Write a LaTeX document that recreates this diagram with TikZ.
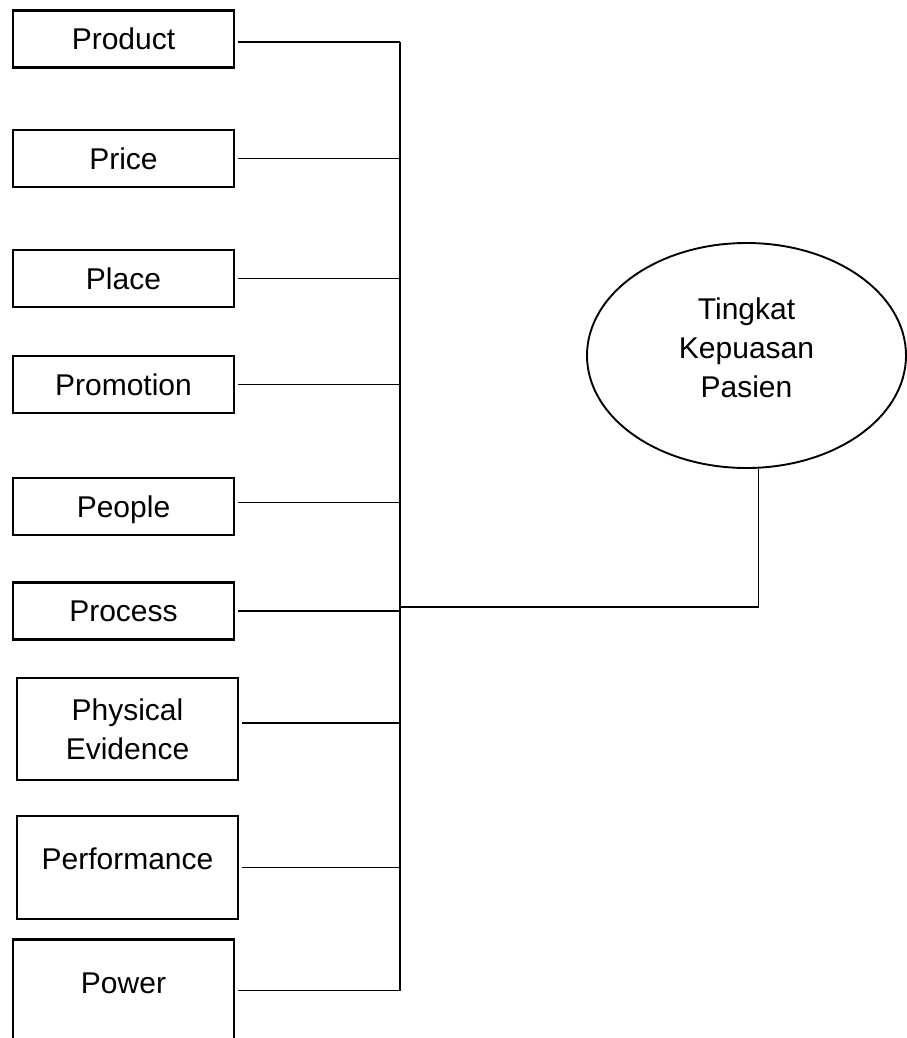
\documentclass[tikz,border=0pt]{standalone}
\usepackage{fontspec}
\setmainfont{Liberation Sans}
\usepackage{tikz}
\usetikzlibrary{positioning, shapes.geometric}

\tikzset{
  box/.style={draw, line width=2.7pt, minimum width=221pt, minimum height=57pt,
    inner sep=0pt, align=center, text height=21.5pt, text depth=0pt},
  link/.style={line width=1.2pt},
}

\begin{document}
\begin{tikzpicture}[x=1pt, y=-1pt, font=\fontsize{30}{39}\selectfont]
\useasboundingbox (0,0) rectangle (906,1038);

\node[box] (product) at (123.5,39) {Product};
\node[box] (price) at (123.5,158.5) {Price};
\node[box] (place) at (123.5,278.5) {Place};
\node[box] (promotion) at (123.5,384.5) {Promotion};
\node[box] (people) at (123.5,506.5) {People};
\node[box] (process) at (123.5,611) {Process};
\node[draw, line width=2.7pt, minimum width=221pt, minimum height=102pt, inner sep=0pt,
  align=center] (physical) at (127.5,729) {Physical\\Evidence};
\node[box, text height=53pt, text depth=50pt] (performance) at (127.5,867.5) {Performance};
\node[box, text height=54pt, text depth=54pt, anchor=north] (power) at (123.5,938) {Power};

\node[ellipse, draw, line width=1.9pt, minimum width=319pt, minimum height=225pt,
  inner sep=0pt, align=center, text depth=15pt] (goal) at (746.5,355.5)
  {Tingkat\\Kepuasan\\Pasien};

\coordinate (spine) at (400,0);
\coordinate (hub) at (400,607);

\draw[link] ([yshift=-3pt]product.east -| spine) -- (power.mid east -| spine);
\draw[link] ([xshift=3pt,yshift=-3pt]product.east) -- ([yshift=-3pt]product.east -| spine);
\draw[link] ([xshift=3pt]price.east) -- (price.east -| spine);
\draw[link] ([xshift=3pt]place.east) -- (place.east -| spine);
\draw[link] ([xshift=3pt]promotion.east) -- (promotion.east -| spine);
\draw[link] ([xshift=3pt,yshift=4pt]people.east) -- ([yshift=4pt]people.east -| spine);
\draw[link] ([xshift=3pt]process.east) -- (process.east -| spine);
\draw[link] ([xshift=3pt,yshift=6pt]physical.east) -- ([yshift=6pt]physical.east -| spine);
\draw[link] ([xshift=3pt]performance.east) -- (performance.east -| spine);
\draw[link] ([xshift=3pt]power.mid east) -- (power.mid east -| spine);
\draw[link] ([xshift=12pt]goal.south) |- (hub);
\end{tikzpicture}
\end{document}
